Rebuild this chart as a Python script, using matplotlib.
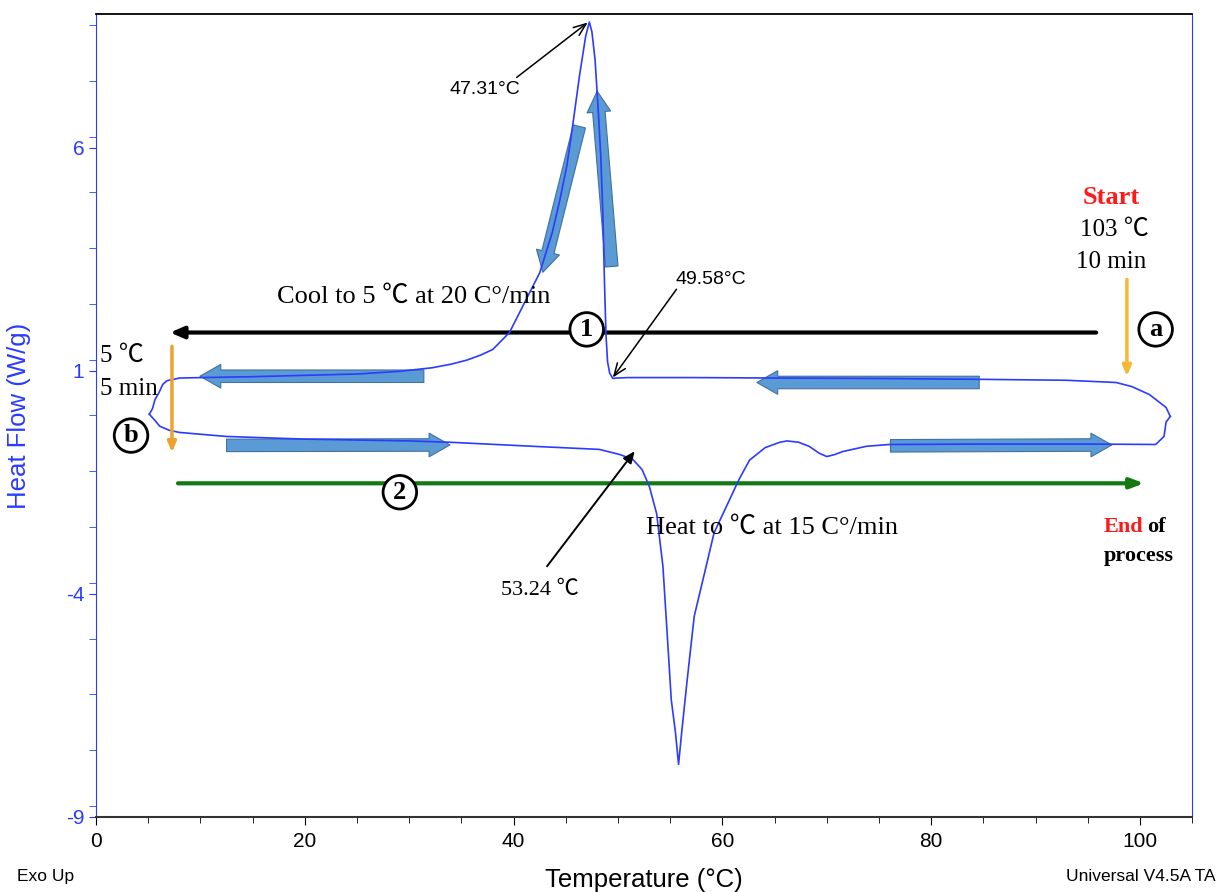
import numpy as np
import matplotlib.pyplot as plt
from matplotlib.patches import FancyArrowPatch
from matplotlib.ticker import MultipleLocator

plt.rcParams['axes.unicode_minus'] = False

# DSC run: cooling from 103 C, then heating from 5 C
cool_temp = [102.9, 102.5, 100.9, 99.2, 97.7, 92.9, 84.9, 75.0, 65.0, 57.0, 51.0, 49.9,
             49.5, 49.2, 49.0, 48.85, 48.7, 48.55, 48.35, 48.1, 47.8, 47.5, 47.25, 46.9,
             46.3, 45.7, 45.1, 44.4, 43.7, 42.5, 41.2, 39.6, 38.0, 36.8, 35.5, 34.0, 32.2,
             29.1, 25.0, 20.0, 15.0, 10.2, 8.0, 6.8, 6.4, 6.0, 5.65, 5.4, 5.1]
cool_flow = [-0.02, 0.18, 0.47, 0.65, 0.74, 0.79, 0.81, 0.83, 0.84, 0.85, 0.85, 0.84,
             0.83, 0.95, 1.2, 1.8, 3.0, 4.5, 5.8, 6.86, 7.98, 8.6, 8.82, 8.5,
             7.6, 6.57, 5.6, 4.8, 4.1, 3.2, 2.6, 1.86, 1.48, 1.35, 1.24, 1.15, 1.07,
             0.99, 0.93, 0.9, 0.87, 0.85, 0.84, 0.78, 0.70, 0.5, 0.36, 0.15, 0.03]

heat_temp = [5.1, 5.6, 6.1, 7.0, 8.0, 12.5, 20.0, 30.0, 33.9, 41.8, 48.2, 50.1, 51.4,
             52.3, 53.0, 53.7, 54.3, 54.7, 55.1, 55.5, 55.8, 56.1, 56.6, 57.3, 58.3,
             59.2, 60.7, 61.6, 62.6, 64.1, 65.5, 66.2, 67.3, 68.3, 69.3, 70.0, 70.7,
             71.5, 73.8, 76.0, 85.0, 95.0, 101.5, 102.3, 102.5, 102.9]
heat_flow = [0.03, -0.1, -0.24, -0.33, -0.38, -0.47, -0.53, -0.57, -0.60, -0.69, -0.76,
             -0.87, -0.98, -1.21, -1.59, -2.2, -3.38, -4.86, -6.37, -7.1, -7.82, -7.1,
             -5.98, -4.5, -3.52, -2.63, -1.88, -1.43, -1.0, -0.72, -0.6, -0.57, -0.6,
             -0.69, -0.85, -0.92, -0.88, -0.81, -0.69, -0.65, -0.64, -0.64, -0.65,
             -0.47, -0.15, -0.02]

y_ticks = [6, 1, -4, -9]
x_ticks = [0, 20, 40, 60, 80, 100]

SERIF = ['Liberation Serif', 'Noto Sans CJK JP', 'DejaVu Sans']
SANS = ['Liberation Sans', 'DejaVu Sans']
BLUE = '#2b3bff'
ARROW_FC = '#5b9bd5'
ARROW_EC = '#41719c'

fig = plt.figure(figsize=(12.19, 8.92), dpi=100)
ax = fig.add_axes([0.0788, 0.0841, 0.8992, 0.9002])

ax.plot(cool_temp, cool_flow, color=BLUE, lw=1.2, zorder=3)
ax.plot(heat_temp, heat_flow, color=BLUE, lw=1.2, zorder=3)

ax.set_xlim(0, 105)
ax.set_ylim(-9, 9)
ax.set_xticks(x_ticks)
ax.set_yticks(y_ticks)
ax.xaxis.set_minor_locator(MultipleLocator(5))
ax.yaxis.set_minor_locator(MultipleLocator(1.25))
ax.tick_params(axis='x', which='both', direction='out', colors='black', labelsize=15, pad=5)
ax.tick_params(axis='x', which='major', length=6)
ax.tick_params(axis='x', which='minor', length=4)
ax.tick_params(axis='y', which='both', direction='out', colors=BLUE, labelsize=15, length=5)
for lab in ax.get_xticklabels() + ax.get_yticklabels():
    lab.set_family(SANS)
ax.spines['left'].set_color(BLUE)
ax.spines['right'].set_color(BLUE)
ax.spines['top'].set_color('black')
ax.spines['bottom'].set_color('#333333')
ax.spines['top'].set_linewidth(1.3)
ax.spines['bottom'].set_linewidth(1.5)

ax.set_ylabel('Heat Flow (W/g)', color=BLUE, fontsize=18.5, family=SANS)
ax.yaxis.set_label_coords(-0.059, 0.5)
ax.set_xlabel('Temperature (°C)', fontsize=18.5, family=SANS)
ax.xaxis.set_label_coords(0.5, -0.063)
fig.text(0.014, 0.012, 'Exo Up', fontsize=12.5, family=SANS)
fig.text(0.997, 0.012, 'Universal V4.5A TA', fontsize=12.5, family=SANS, ha='right')

# thick block arrows following the trace
blocks = [((31.4, 0.88), (9.95, 0.88)), ((84.6, 0.74), (63.3, 0.74)),
          ((12.5, -0.67), (33.9, -0.66)), ((76.1, -0.68), (97.3, -0.66)),
          ((46.3, 6.48), (42.8, 3.21)), ((49.4, 3.34), (48.0, 7.27))]
for tail, head in blocks:
    ax.add_patch(FancyArrowPatch(tail, head, mutation_scale=1, shrinkA=0, shrinkB=0,
                                 arrowstyle='simple,head_length=15,head_width=17,tail_width=9',
                                 fc=ARROW_FC, ec=ARROW_EC, lw=0.8, zorder=2))

# process arrows
ax.annotate('', xy=(7.1, 1.86), xytext=(95.8, 1.86),
            arrowprops=dict(arrowstyle='-|>,head_length=0.8,head_width=0.35', color='black', lw=3,
                            shrinkA=0, shrinkB=0), zorder=1)
ax.annotate('', xy=(100.4, -1.52), xytext=(7.85, -1.52),
            arrowprops=dict(arrowstyle='-|>,head_length=0.8,head_width=0.3', color='#137a13', lw=3,
                            shrinkA=0, shrinkB=0), zorder=1)
ax.annotate('', xy=(98.75, 0.88), xytext=(98.75, 3.05),
            arrowprops=dict(arrowstyle='-|>,head_length=0.6,head_width=0.25', color='#f7b733', lw=2.5,
                            shrinkA=0, shrinkB=0))
ax.annotate('', xy=(7.27, -0.83), xytext=(7.27, 1.55),
            arrowprops=dict(arrowstyle='-|>,head_length=0.6,head_width=0.25', color='#eda230', lw=2.5,
                            shrinkA=0, shrinkB=0))

# peak labels
ax.annotate('', xy=(47.1, 8.81), xytext=(40.3, 7.58),
            arrowprops=dict(arrowstyle='->,head_length=0.9,head_width=0.35', color='black', lw=1.1,
                            shrinkA=0, shrinkB=0))
ax.text(37.2, 7.31, '47.31°C', ha='center', va='center', fontsize=14, family=SANS)
ax.annotate('', xy=(49.5, 0.85), xytext=(55.6, 2.83),
            arrowprops=dict(arrowstyle='->,head_length=0.9,head_width=0.35', color='black', lw=1.1,
                            shrinkA=0, shrinkB=0))
ax.text(58.9, 3.05, '49.58°C', ha='center', va='center', fontsize=14, family=SANS)
ax.annotate('', xy=(51.6, -0.80), xytext=(43.2, -3.38),
            arrowprops=dict(arrowstyle='-|>,head_length=0.7,head_width=0.3', color='black', lw=1.4,
                            shrinkA=0, shrinkB=0))
ax.text(42.5, -3.92, '53.24 ℃', ha='center', va='center', fontsize=16, family=SERIF)

ax.text(17.3, 2.67, 'Cool to 5 ℃ at 20 C°/min', ha='left', va='center', fontsize=19, family=SERIF)
ax.text(52.7, -2.51, 'Heat to ℃ at 15 C°/min', ha='left', va='center', fontsize=19, family=SERIF)
ax.text(97.2, 4.89, 'Start', ha='center', va='center', fontsize=19, family=SERIF,
        color='#ff1a1a', fontweight='bold')
ax.text(97.5, 4.17, '103 ℃', ha='center', va='center', fontsize=18, family=SERIF)
ax.text(97.2, 3.43, '10 min', ha='center', va='center', fontsize=18, family=SERIF)
ax.text(0.38, 1.33, '5 ℃', ha='left', va='center', fontsize=18, family=SERIF)
ax.text(0.38, 0.59, '5 min', ha='left', va='center', fontsize=18, family=SERIF)
ax.text(96.5, -2.49, 'End', ha='left', va='center', fontsize=16, family=SERIF,
        color='#ff1a1a', fontweight='bold')
ax.text(100.7, -2.49, 'of', ha='left', va='center', fontsize=16, family=SERIF, fontweight='bold')
ax.text(99.9, -3.16, 'process', ha='center', va='center', fontsize=16, family=SERIF, fontweight='bold')

# circled step markers
for x, y, s in [(47.0, 1.93, '1'), (101.5, 1.93, 'a'), (3.35, -0.45, 'b'), (29.1, -1.72, '2')]:
    ax.text(x, y, s, ha='center', va='center', fontsize=19, family=SERIF, fontweight='bold',
            bbox=dict(boxstyle='circle,pad=0.2', fc='white', ec='black', lw=2), zorder=4)

fig.savefig('out.png', dpi=100)
